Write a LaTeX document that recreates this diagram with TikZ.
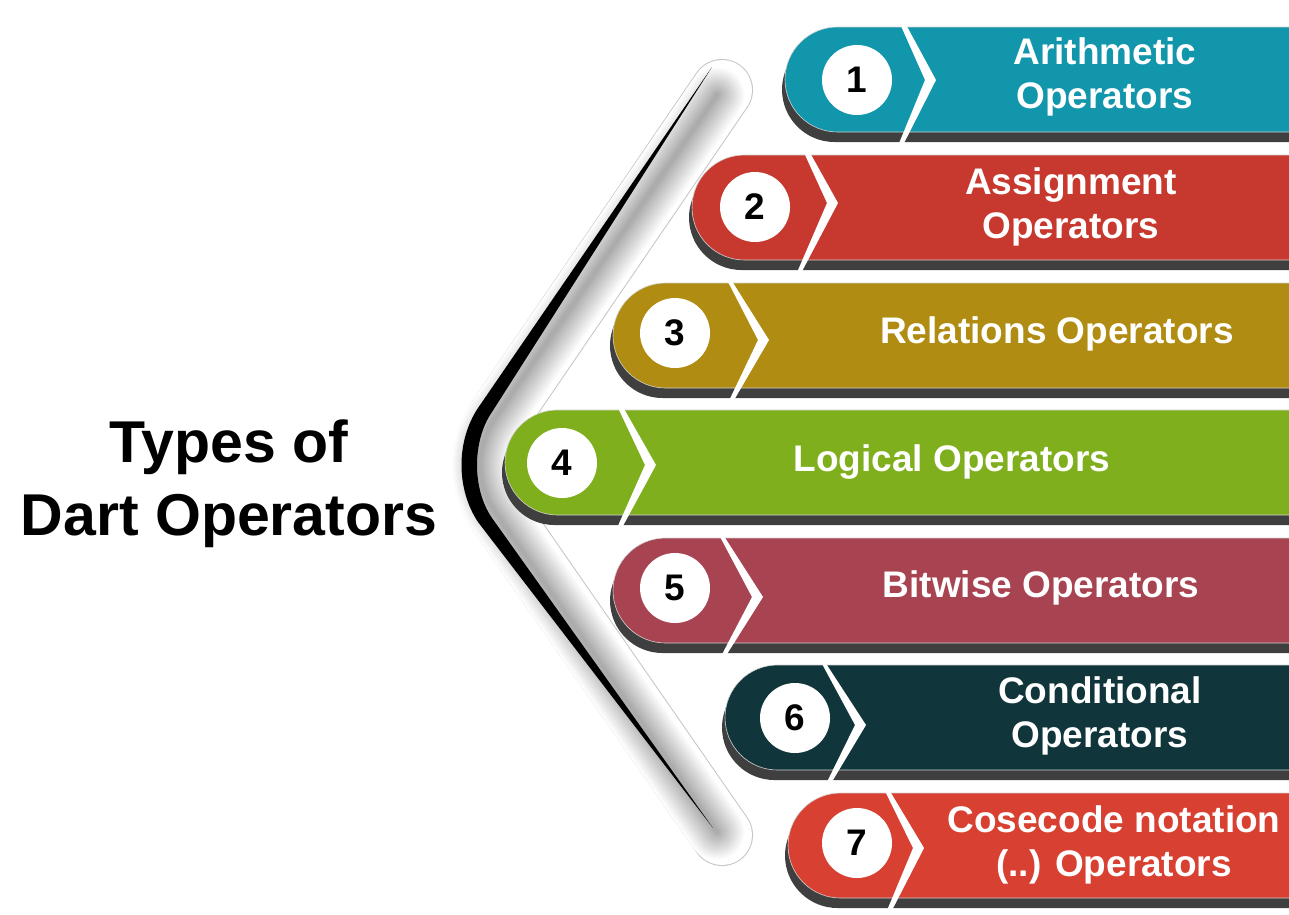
\documentclass[tikz,border=0pt]{standalone}
\usepackage{fontspec}
\setmainfont{Liberation Sans}
\definecolor{opA}{HTML}{1196AC}
\definecolor{opB}{HTML}{C7392E}
\definecolor{opC}{HTML}{B08D12}
\definecolor{opD}{HTML}{7FAF1D}
\definecolor{opE}{HTML}{A84452}
\definecolor{opF}{HTML}{10363B}
\definecolor{opG}{HTML}{D84032}
\definecolor{shadowgray}{HTML}{3F3F3F}
\begin{document}
\begin{tikzpicture}[x=1pt,y=-1pt,
  numdisc/.style={circle, fill=white, minimum size=70pt, inner sep=0pt,
    font=\fontsize{37}{37}\selectfont\bfseries, text=black},
  optext/.style={text=white, align=center,
    font=\fontsize{37}{44}\selectfont\bfseries},
  titletext/.style={text=black, align=center,
    font=\fontsize{59}{73}\selectfont\bfseries},
  chevron/.style={fill=white}]
\useasboundingbox (0,0) rectangle (1289,914);

% bracket: outlined capsule with a soft grey glow
\draw[line width=62pt, gray!45, line cap=round, line join=round]
  (722,90) -- (498,418) .. controls (478,448) and (478,482) .. (498,512) -- (722,835);
\draw[line width=60pt, white, line cap=round, line join=round]
  (722,90) -- (498,418) .. controls (478,448) and (478,482) .. (498,512) -- (722,835);
\foreach \i in {0,...,27}{
  \pgfmathsetmacro\w{57-2*\i}
  \pgfmathsetmacro\k{1.2*\i}
  \draw[line width=\w pt, black!\k, line cap=round, line join=round]
    (717,95) -- (495,418) .. controls (475,448) and (475,482) .. (495,512) -- (717,832);
}
% bracket: tapered black stroke
\fill[black] (712,67) -- (478,408) .. controls (456,441) and (456,489) .. (478,522)
  -- (713,828) -- (492,518) .. controls (472,489) and (472,441) .. (492,412) -- cycle;

% bars with their drop shadows
\foreach \l/\t/\c in {785/27/opA, 692/155/opB, 613/283/opC, 505/410/opD,
                      613/538/opE, 725/665/opF, 788/793/opG}{
  \fill[shadowgray, rounded corners=52.5pt] (\l-3,\t+10) rectangle (1400,\t+115);
  \fill[\c, draw=black!18, line width=0.6pt, rounded corners=52.5pt]
    (\l,\t) rectangle (1400,\t+105);
}

% white chevrons
\foreach \xa/\ya/\xt/\yt/\xb/\yb in {895/8/935/80/897/153, 797/133/837/203/797/277,
    728/278/768/340/728/407, 613/393/655/465/615/537, 720/533/762/597/720/662,
    823/662/865/725/825/790, 883/783/923/848/885/920}{
  \fill[chevron] (\xa-2,\ya) -- (\xa+2,\ya) -- (\xt+1,\yt) -- (\xb+2,\yb)
    -- (\xb-2,\yb) -- (\xt-10,\yt) -- cycle;
}

% numbered discs
\node[numdisc] (n1) at (857,80) {1};
\node[numdisc] (n2) at (755,207) {2};
\node[numdisc] (n3) at (675,333) {3};
\node[numdisc] (n4) at (562,463) {4};
\node[numdisc] (n5) at (675,588) {5};
\node[numdisc] (n6) at (795,718) {6};
\node[numdisc] (n7) at (857,843) {7};

% operator names
\node[optext] (t1) at (1105,77) {Arithmetic\\Operators};
\node[optext] (t2) at (1071,207) {Assignment\\Operators};
\node[optext] (t3) at (1057,334) {Relations Operators};
\node[optext] (t4) at (952,462) {Logical Operators};
\node[optext] (t5) at (1041,588) {Bitwise Operators};
\node[optext] (t6) at (1100,716) {Conditional\\Operators};
\node[optext] (t7) at (1114,845) {Cosecode notation\\(..) Operators};

% heading
\node[titletext] (title) at (229,484) {Types of\\Dart Operators};
\end{tikzpicture}
\end{document}
